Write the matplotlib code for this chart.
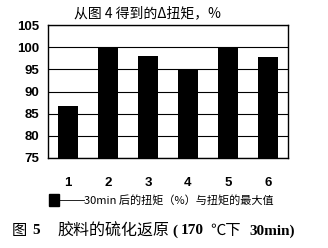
import matplotlib
matplotlib.use('Agg')
import matplotlib.pyplot as plt
from matplotlib.patches import Rectangle
from matplotlib.lines import Line2D

plt.rcParams['font.family'] = ['Noto Sans CJK SC', 'DejaVu Sans']

# 数据
categories = ['1', '2', '3', '4', '5', '6']
torque = [86.8, 100.0, 98.1, 95.0, 100.0, 97.8]
yticks = [75, 80, 85, 90, 95, 100, 105]

fig = plt.figure(figsize=(3.28, 2.48), dpi=100)
ax = fig.add_axes([0.1463, 0.363, 0.7317, 0.536])

x = range(len(categories))
ax.bar(x, torque, width=0.5, color='black', zorder=3)
ax.set_xlim(-0.5, len(categories) - 0.5)
ax.set_ylim(75, 105)
ax.set_yticks(yticks)
ax.set_xticks(list(x))
ax.set_xticklabels(categories)
ax.yaxis.grid(True, color='black', linewidth=0.8, zorder=0)
ax.tick_params(length=0, labelsize=9.5)
ax.tick_params(axis='x', pad=14)
ax.tick_params(axis='y', pad=6)
for lab in ax.get_xticklabels() + ax.get_yticklabels():
    lab.set_fontfamily(['Liberation Sans', 'DejaVu Sans'])
    lab.set_fontweight('bold')
for s in ax.spines.values():
    s.set_linewidth(1.0)

serif = ['Liberation Serif', 'DejaVu Serif']

# 标题
fig.text(0.45, 0.948, '从图 4 得到的Δ扭矩，%', ha='center', va='center', fontsize=10)

# 图例（手绘）
fig.patches.append(Rectangle((0.149, 0.169), 0.031, 0.048,
                             transform=fig.transFigure, color='black'))
fig.lines.append(Line2D([0.18, 0.256], [0.194, 0.194], transform=fig.transFigure,
                        color='black', linewidth=0.6))
fig.text(0.256, 0.194, '30min 后的扭矩（%）与扭矩的最大值', ha='left', va='center', fontsize=8)

# 图注
cy = 0.069
fig.text(0.037, cy, '图', ha='left', va='center', fontsize=11)
fig.text(0.098, cy, '5', ha='left', va='center', fontsize=11, fontweight='bold', family=serif)
fig.text(0.174, cy, '胶料的硫化返原', ha='left', va='center', fontsize=11.5)
fig.text(0.527, cy, '(', ha='left', va='center', fontsize=11, fontweight='bold', family=serif)
fig.text(0.552, cy, '170', ha='left', va='center', fontsize=11, fontweight='bold', family=serif)
fig.text(0.64, cy, '℃下', ha='left', va='center', fontsize=11)
fig.text(0.759, cy, '30min)', ha='left', va='center', fontsize=11, fontweight='bold', family=serif)

fig.savefig('out.png', dpi=100)
